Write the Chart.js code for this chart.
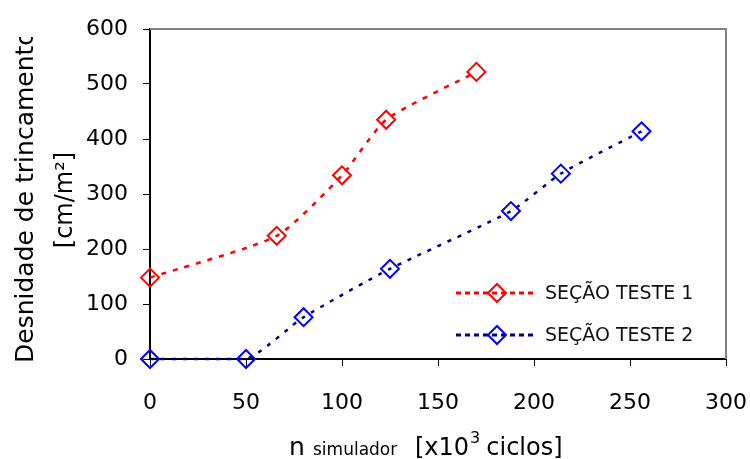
<!DOCTYPE html>
<html>
<head>
<meta charset="utf-8">
<script src="https://cdn.jsdelivr.net/npm/chart.js@4.4.0/dist/chart.umd.min.js"></script>
<style>
  html, body { margin: 0; padding: 0; background: #fff; }
  #wrap { width: 750px; height: 459px; }
</style>
</head>
<body>
<div id="wrap"><canvas id="chart" width="750" height="459"></canvas></div>
<script>
// Densidade de trincamento x ciclos do simulador

const xTicks = [0, 50, 100, 150, 200, 250, 300];
const yTicks = [0, 100, 200, 300, 400, 500, 600];

const seriesNames = ['SEÇÃO TESTE 1', 'SEÇÃO TESTE 2'];

const ciclos1 = [0, 66, 100, 123, 170];
const densidade1 = [148, 224, 334, 435, 522];

const ciclos2 = [0, 50, 80, 125, 188, 214, 256];
const densidade2 = [0, 0, 76, 164, 269, 337, 414];

const FONT = '"DejaVu Sans", sans-serif';

const toPoints = (xs, ys) => xs.map((x, i) => ({ x, y: ys[i] }));

// grey top/right border of the plot area
const frame = {
  id: 'frame',
  beforeDatasetsDraw(chart) {
    const { ctx, chartArea: a } = chart;
    ctx.save();
    ctx.strokeStyle = '#808080';
    ctx.lineWidth = 2;
    ctx.beginPath();
    ctx.moveTo(a.left, a.top);
    ctx.lineTo(a.right, a.top);
    ctx.lineTo(a.right, a.bottom);
    ctx.stroke();
    ctx.restore();
  }
};

// legend inside the plot, excel style (dashed line with marker in the middle)
const lineLegend = {
  id: 'lineLegend',
  afterDatasetsDraw(chart) {
    const { ctx } = chart;
    const rows = [293, 335];
    ctx.save();
    chart.data.datasets.forEach((ds, i) => {
      const y = rows[i];
      ctx.strokeStyle = ds.borderColor;
      ctx.lineWidth = 3;
      ctx.setLineDash([5, 4]);
      ctx.beginPath();
      ctx.moveTo(456, y);
      ctx.lineTo(533, y);
      ctx.stroke();
      ctx.setLineDash([]);
      const r = ds.pointRadius;
      ctx.strokeStyle = ds.pointBorderColor;
      ctx.lineWidth = ds.pointBorderWidth;
      ctx.beginPath();
      ctx.moveTo(497 - r, y);
      ctx.lineTo(497, y - r);
      ctx.lineTo(497 + r, y);
      ctx.lineTo(497, y + r);
      ctx.closePath();
      ctx.stroke();
      ctx.fillStyle = '#111';
      ctx.font = `19px ${FONT}`;
      ctx.textAlign = 'left';
      ctx.textBaseline = 'middle';
      ctx.fillText(ds.label, 545, y + 1);
    });
    ctx.restore();
  }
};

// axis titles (sub/superscripts need manual drawing)
const titles = {
  id: 'titles',
  afterDraw(chart) {
    const { ctx } = chart;
    ctx.save();
    ctx.fillStyle = '#000';
    ctx.textBaseline = 'alphabetic';

    ctx.save();
    ctx.beginPath();
    ctx.rect(0, 37, 140, 422);
    ctx.clip();
    ctx.translate(33, 363);
    ctx.rotate(-Math.PI / 2);
    ctx.font = `25px ${FONT}`;
    ctx.textAlign = 'left';
    ctx.fillText('Desnidade de trincamento', 0, 0);
    ctx.restore();

    ctx.save();
    ctx.translate(72, 200);
    ctx.rotate(-Math.PI / 2);
    ctx.font = `24px ${FONT}`;
    ctx.textAlign = 'center';
    ctx.fillText('[cm/m²]', 0, 0);
    ctx.restore();

    // x title: n simulador [x10^3 ciclos]
    const base = 455;
    ctx.textAlign = 'left';
    ctx.font = `25px ${FONT}`;
    ctx.fillText('n', 289, base);
    ctx.font = `17px ${FONT}`;
    ctx.fillText('simulador', 313, base);
    ctx.font = `24px ${FONT}`;
    ctx.fillText('[x10', 415, base);
    let x = 415 + ctx.measureText('[x10').width + 1;
    ctx.font = `16px ${FONT}`;
    ctx.fillText('3', x, base - 12);
    x += ctx.measureText('3').width + 6;
    ctx.font = `24px ${FONT}`;
    ctx.fillText('ciclos]', x, base);
    ctx.restore();
  }
};

new Chart(document.getElementById('chart'), {
  type: 'scatter',
  data: {
    datasets: [
      {
        label: seriesNames[0],
        data: toPoints(ciclos1, densidade1),
        showLine: true,
        borderColor: '#FF0000',
        borderWidth: 2.5,
        borderDash: [5, 7],
        tension: 0.2,
        pointStyle: 'rectRot',
        pointRadius: 9,
        pointHoverRadius: 9,
        pointBorderColor: '#FF0000',
        pointBackgroundColor: 'rgba(0,0,0,0)',
        pointBorderWidth: 2,
        clip: false
      },
      {
        label: seriesNames[1],
        data: toPoints(ciclos2, densidade2),
        showLine: true,
        borderColor: '#000080',
        borderWidth: 2.5,
        borderDash: [4, 7],
        tension: 0.2,
        pointStyle: 'rectRot',
        pointRadius: 9,
        pointHoverRadius: 9,
        pointBorderColor: '#0000FF',
        pointBackgroundColor: 'rgba(0,0,0,0)',
        pointBorderWidth: 2,
        clip: false
      }
    ]
  },
  options: {
    responsive: false,
    animation: false,
    layout: { padding: { top: 29, right: 24, left: 0, bottom: 0 } },
    scales: {
      x: {
        type: 'linear',
        min: xTicks[0],
        max: xTicks[xTicks.length - 1],
        afterBuildTicks: s => { s.ticks = xTicks.map(v => ({ value: v })); },
        afterFit: s => { s.height = 100; s.paddingLeft = 0; s.paddingRight = 0; },
        grid: { drawOnChartArea: false, tickLength: 7, color: '#000', lineWidth: 1 },
        border: { color: '#000', width: 2 },
        ticks: { font: { family: FONT, size: 22 }, color: '#000', padding: 24, maxRotation: 0 }
      },
      y: {
        min: yTicks[0],
        max: yTicks[yTicks.length - 1],
        afterBuildTicks: s => { s.ticks = yTicks.map(v => ({ value: v })); },
        afterFit: s => { s.width = 150; s.paddingTop = 0; s.paddingBottom = 0; },
        grid: { drawOnChartArea: false, tickLength: 7, color: '#000', lineWidth: 1 },
        border: { color: '#000', width: 2 },
        ticks: { font: { family: FONT, size: 22 }, color: '#000', padding: 15 }
      }
    },
    plugins: {
      legend: { display: false },
      tooltip: { enabled: false }
    }
  },
  plugins: [frame, lineLegend, titles]
});
</script>
</body>
</html>
